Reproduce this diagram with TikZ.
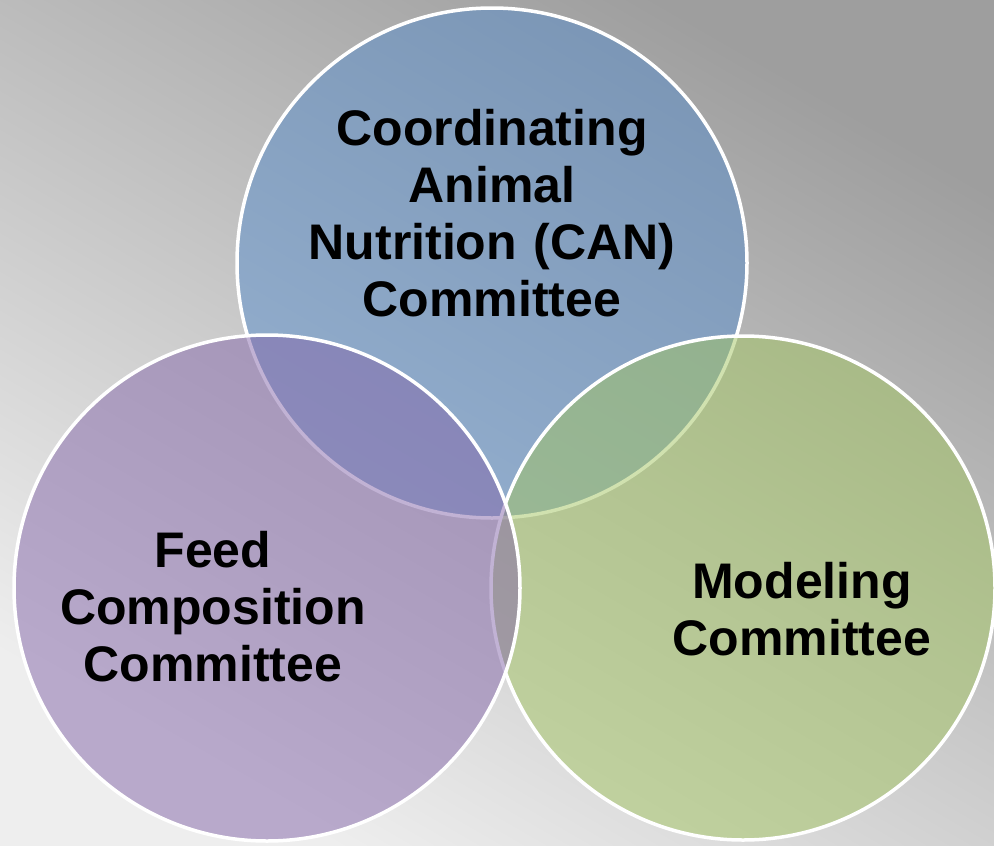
\documentclass[tikz,border=0pt]{standalone}
\usepackage{fontspec}
\setmainfont{Liberation Sans}
\definecolor{bgdark}{RGB}{158,158,158}
\definecolor{bglight}{RGB}{238,238,238}
\definecolor{canblue}{RGB}{86,140,202}
\definecolor{feedpurple}{RGB}{132,102,170}
\definecolor{modgreen}{RGB}{162,196,96}
\tikzset{
  venn/.style={draw=white, line width=3.5pt, fill opacity=0.5},
  lbl/.style={font=\bfseries\fontsize{50}{57}\selectfont, text=black, align=center, text width=440pt, inner sep=0pt}
}
\begin{document}
\begin{tikzpicture}[x=1pt,y=-1pt]
\useasboundingbox (0,0) rectangle (994,846);
\shade[top color=bgdark, bottom color=bglight, shading angle=-30] (0,0) rectangle (994,846);
\coordinate (ctop) at (492,263);
\coordinate (cleft) at (267,588);
\coordinate (cright) at (743,588);
\path[venn, fill=canblue] (ctop) circle[radius=255pt];
\path[venn, fill=modgreen] (cright) circle[radius=252pt];
\path[venn, fill=feedpurple] (cleft) circle[radius=253pt];
\node[lbl, anchor=base] (can) at (492,145) {Coordinating\\Animal\\Nutrition (CAN)\\Committee};
\node[lbl, anchor=base] (feed) at (213,567) {Feed\\Composition\\Committee};
\node[lbl, anchor=base] (model) at (802,598) {Modeling\\Committee};
\end{tikzpicture}
\end{document}
